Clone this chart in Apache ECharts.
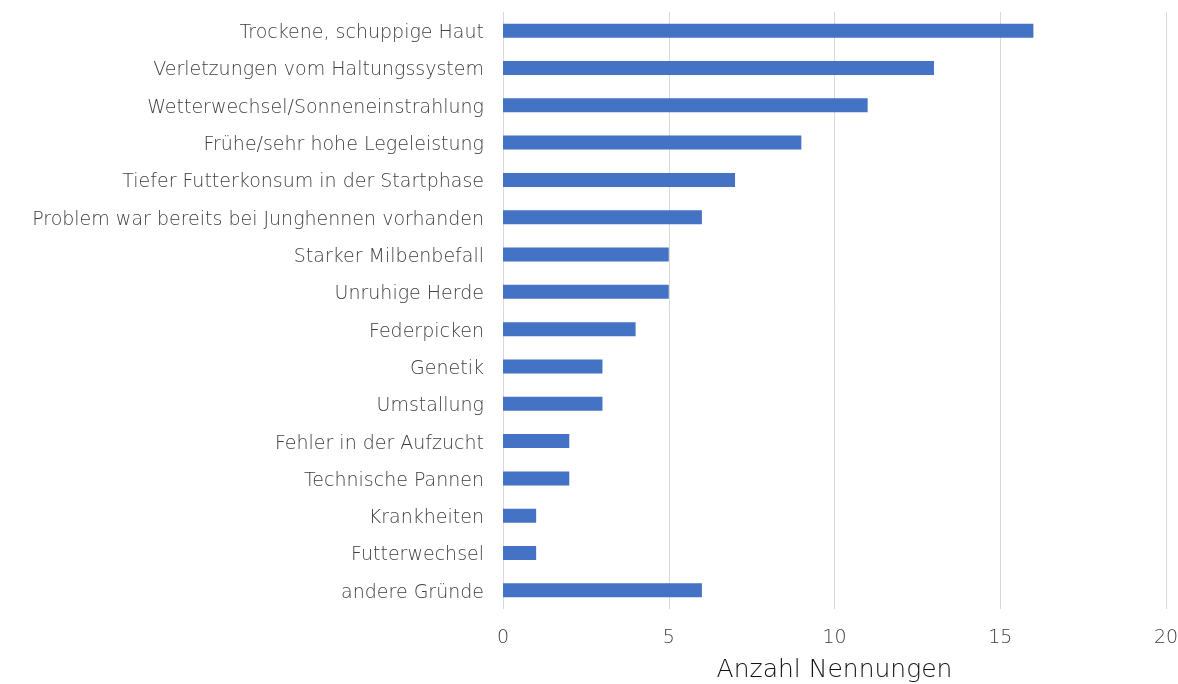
<!DOCTYPE html>
<html>
<head>
<meta charset="utf-8">
<script src="https://cdn.jsdelivr.net/npm/echarts@6/dist/echarts.min.js"></script>
<style>
  html, body { margin: 0; padding: 0; background: #fff; }
  #chart { width: 1178px; height: 684px; }
</style>
</head>
<body>
<div id="chart"></div>
<script>
var categories = [
  'Trockene, schuppige Haut',
  'Verletzungen vom Haltungssystem',
  'Wetterwechsel/Sonneneinstrahlung',
  'Frühe/sehr hohe Legeleistung',
  'Tiefer Futterkonsum in der Startphase',
  'Problem war bereits bei Junghennen vorhanden',
  'Starker Milbenbefall',
  'Unruhige Herde',
  'Federpicken',
  'Genetik',
  'Umstallung',
  'Fehler in der Aufzucht',
  'Technische Pannen',
  'Krankheiten',
  'Futterwechsel',
  'andere Gründe'
]
var counts = [16, 13, 11, 9, 7, 6, 5, 5, 4, 3, 3, 2, 2, 1, 1, 6]
var axisTitle = 'Anzahl Nennungen'

var fontName = 'DejaVu Sans'
var myChart = echarts.init(document.getElementById('chart'))
var options = {
  animation: false,
  grid: {
    left: 503,
    right: 12,
    top: 12,
    bottom: 75,
    containLabel: false,
    outerBoundsMode: 'none'
  },
  xAxis: {
    type: 'value',
    min: 0,
    max: 20,
    interval: 5,
    name: axisTitle,
    nameLocation: 'middle',
    nameGap: 49,
    nameTextStyle: { color: '#111', fontSize: 25, fontFamily: fontName, fontWeight: 300 },
    axisLine: { show: false },
    axisTick: { show: false },
    axisLabel: { color: '#404040', fontSize: 19, fontFamily: fontName, fontWeight: 300, margin: 20 },
    splitLine: { show: true, lineStyle: { color: '#d9d9d9', width: 1 } }
  },
  yAxis: {
    type: 'category',
    inverse: true,
    data: categories,
    axisLine: { show: false },
    axisTick: { show: false },
    axisLabel: {
      margin: 19,
      formatter: function (v) {
        return '{t|' + v + '}'
      },
      rich: {
        t: {
          color: '#404040',
          fontSize: 19,
          fontFamily: fontName,
          fontWeight: 300,
          padding: [5, 0, 0, 0]
        }
      }
    }
  },
  series: [
    {
      type: 'bar',
      data: counts,
      barWidth: 14,
      itemStyle: { color: '#4472c4' }
    }
  ]
}
myChart.setOption(options)
</script>
</body>
</html>
